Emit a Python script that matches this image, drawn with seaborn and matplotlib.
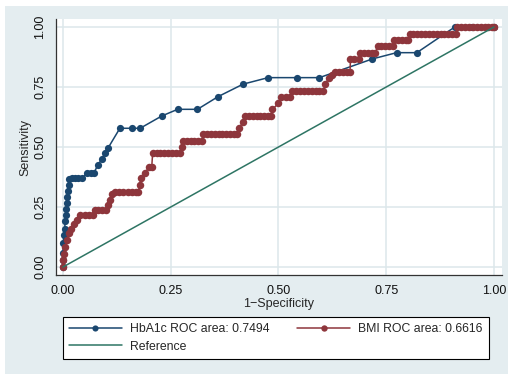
import matplotlib
matplotlib.use("Agg")
import matplotlib.pyplot as plt
import seaborn as sns
import pandas as pd
from matplotlib.patches import Rectangle

# HbA1c ROC points (1-specificity, sensitivity)
hba1c_fpr = [0.0, 0.0, 0.0, 0.001, 0.002, 0.004, 0.005, 0.006, 0.007, 0.009, 0.010, 0.011,
             0.013, 0.014, 0.020, 0.028, 0.036, 0.045, 0.056, 0.064, 0.072, 0.081, 0.090,
             0.097, 0.105, 0.132, 0.159, 0.179, 0.229, 0.266, 0.312, 0.360, 0.418, 0.476,
             0.542, 0.595, 0.718, 0.774, 0.821, 0.909, 0.95, 1.0]
hba1c_tpr = [0.0, 0.03, 0.06, 0.10, 0.133, 0.16, 0.19, 0.215, 0.24, 0.265, 0.29, 0.315,
             0.34, 0.365, 0.37, 0.37, 0.37, 0.37, 0.393, 0.393, 0.393, 0.425, 0.449,
             0.474, 0.497, 0.578, 0.578, 0.578, 0.629, 0.657, 0.657, 0.71, 0.762, 0.789,
             0.789, 0.789, 0.867, 0.893, 0.893, 1.0, 1.0, 1.0]

# BMI ROC points
bmi_fpr = [0.0, 0.001, 0.003, 0.005, 0.009, 0.013, 0.019, 0.025, 0.032,
           0.040, 0.050, 0.060, 0.070,
           0.074, 0.082, 0.090, 0.100,
           0.104, 0.108, 0.114,
           0.120, 0.130, 0.140, 0.150, 0.160, 0.170, 0.175,
           0.178, 0.181, 0.190, 0.200, 0.206,
           0.208, 0.217, 0.226, 0.235, 0.244, 0.253, 0.262, 0.272,
           0.275, 0.278,
           0.287, 0.296, 0.305, 0.314, 0.322,
           0.325, 0.334, 0.343, 0.352, 0.361, 0.370, 0.379, 0.388, 0.397, 0.403,
           0.408, 0.418, 0.422,
           0.431, 0.440, 0.449, 0.458, 0.467, 0.476, 0.482,
           0.486, 0.500, 0.507, 0.517, 0.527,
           0.532, 0.541, 0.550, 0.559, 0.568, 0.577, 0.586, 0.595, 0.604,
           0.609, 0.617, 0.624,
           0.631, 0.640, 0.649, 0.658, 0.666,
           0.667, 0.676, 0.686,
           0.690, 0.699, 0.708, 0.717, 0.725,
           0.730, 0.739, 0.748, 0.757, 0.765,
           0.768, 0.777, 0.786, 0.795, 0.800,
           0.804, 0.813, 0.822, 0.831, 0.840, 0.849, 0.858, 0.867, 0.876, 0.885,
           0.894, 0.903, 0.912,
           0.915, 0.924, 0.933, 0.942, 0.951, 0.960, 0.969, 0.978, 0.987, 0.996, 1.0]
bmi_tpr = [0.0, 0.028, 0.056, 0.085, 0.113, 0.14, 0.16, 0.18, 0.196,
           0.217, 0.217, 0.217, 0.217,
           0.238, 0.238, 0.238, 0.238,
           0.258, 0.279, 0.305,
           0.314, 0.314, 0.314, 0.314, 0.314, 0.314, 0.314,
           0.342, 0.37, 0.39, 0.418, 0.418,
           0.474, 0.474, 0.474, 0.474, 0.474, 0.474, 0.474, 0.474,
           0.50, 0.525,
           0.525, 0.525, 0.525, 0.525, 0.525,
           0.553, 0.553, 0.553, 0.553, 0.553, 0.553, 0.553, 0.553, 0.553, 0.553,
           0.578, 0.603, 0.631,
           0.631, 0.631, 0.631, 0.631, 0.631, 0.631, 0.631,
           0.657, 0.682, 0.71, 0.71, 0.71,
           0.735, 0.735, 0.735, 0.735, 0.735, 0.735, 0.735, 0.735, 0.735,
           0.762, 0.789, 0.80,
           0.814, 0.814, 0.814, 0.814, 0.814,
           0.867, 0.867, 0.867,
           0.893, 0.893, 0.893, 0.893, 0.893,
           0.92, 0.92, 0.92, 0.92, 0.92,
           0.946, 0.946, 0.946, 0.946, 0.946,
           0.972, 0.972, 0.972, 0.972, 0.972, 0.972, 0.972, 0.972, 0.972, 0.972,
           0.972, 0.972, 0.972,
           1.0, 1.0, 1.0, 1.0, 1.0, 1.0, 1.0, 1.0, 1.0, 1.0, 1.0]

ref_x = [0.0, 1.0]
ref_y = [0.0, 1.0]

labels = ["HbA1c ROC area: 0.7494", "BMI ROC area: 0.6616", "Reference"]
ticks = [0.0, 0.25, 0.5, 0.75, 1.0]
tick_labels = ["0.00", "0.25", "0.50", "0.75", "1.00"]

navy = "#1a476f"
maroon = "#8e363c"
teal = "#2e7564"
bg = "#e4edf0"
grid_col = "#dce7eb"

sns.set_style("white")
plt.rcParams["font.family"] = ["Liberation Sans", "DejaVu Sans"]

fig = plt.figure(figsize=(5.08, 3.74), dpi=100, facecolor="white")
fig.patches.append(Rectangle((5 / 508, 0), 1, 1 - 6 / 374, transform=fig.transFigure,
                             facecolor=bg, edgecolor="none", zorder=-10))
ax = fig.add_axes([56 / 508, 1 - 275 / 374, 446 / 508, 256 / 374])
ax.set_facecolor("white")

hb = pd.DataFrame({"fpr": hba1c_fpr, "tpr": hba1c_tpr})
bm = pd.DataFrame({"fpr": bmi_fpr, "tpr": bmi_tpr})

sns.lineplot(data=hb, x="fpr", y="tpr", sort=False, estimator=None, ax=ax,
             color=navy, lw=1.1, marker="o", markersize=5.2, markeredgewidth=0,
             label=labels[0], zorder=3)
sns.lineplot(data=bm, x="fpr", y="tpr", sort=False, estimator=None, ax=ax,
             color=maroon, lw=1.1, marker="o", markersize=5.4, markeredgewidth=0,
             label=labels[1], zorder=4)
sns.lineplot(x=ref_x, y=ref_y, ax=ax, color=teal, lw=1.1, label=labels[2], zorder=5)

ax.set_xlim(-0.0162, 1.0186)
ax.set_ylim(-0.0333, 1.0333)
ax.set_xticks(ticks)
ax.set_xticklabels(tick_labels)
ax.set_yticks(ticks)
ax.set_yticklabels(tick_labels, rotation=90, va="center")
ax.grid(True, color=grid_col, lw=1.1)
ax.set_axisbelow(True)
for s in ["top", "right"]:
    ax.spines[s].set_visible(False)
for s in ["left", "bottom"]:
    ax.spines[s].set_color("#333333")
    ax.spines[s].set_linewidth(0.9)
ax.tick_params(axis="both", length=4, width=0.8, color="#333333", labelsize=9,
               labelcolor="#111111")
ax.tick_params(axis="x", pad=3)
ax.tick_params(axis="y", pad=3)
ax.set_xlabel("1\u2212Specificity", fontsize=9, labelpad=1)
ax.set_ylabel("Sensitivity", fontsize=9, labelpad=2)

h, l = ax.get_legend_handles_labels()
order = [0, 2, 1]
leg = ax.legend([h[i] for i in order], [l[i] for i in order], ncol=2,
                loc="upper left", bbox_to_anchor=(63 / 508, 1 - 317 / 374),
                bbox_transform=fig.transFigure, borderaxespad=0, fontsize=8.8,
                frameon=True, fancybox=False, edgecolor="black", framealpha=1,
                handlelength=4.3, handletextpad=0.7, labelspacing=0.45,
                borderpad=0.5, columnspacing=2.25, markerscale=0.85)
leg.get_frame().set_linewidth(0.8)

plt.savefig("out.png", dpi=100, facecolor=fig.get_facecolor())
